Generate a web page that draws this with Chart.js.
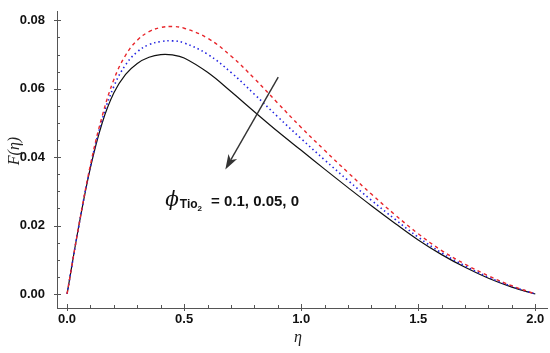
<!DOCTYPE html>
<html>
<head>
<meta charset="utf-8">
<script src="https://cdn.jsdelivr.net/npm/chart.js@4/dist/chart.umd.min.js"></script>
<style>
  html, body { margin: 0; padding: 0; background: #fff; }
  #chart-container { width: 550px; height: 353px; }
</style>
</head>
<body>
<div id="chart-container"><canvas id="f-chart"></canvas></div>
<script>
// eta values (x axis)
var etaValues = [0, 0.05, 0.1, 0.15, 0.2, 0.25, 0.3, 0.35, 0.4, 0.45, 0.5, 0.6, 0.7, 0.8, 0.9,
                 1.0, 1.1, 1.2, 1.3, 1.4, 1.5, 1.6, 1.7, 1.8, 1.9, 2.0];
// F(eta) for phi = 0 (black solid)
var fPhi0 = [0, 0.0198, 0.0370, 0.0500, 0.0588, 0.0642, 0.0674, 0.0692, 0.0700, 0.0699, 0.0690,
             0.0648, 0.0592, 0.0533, 0.0475, 0.0420, 0.0365, 0.0311, 0.0258, 0.0207, 0.0158,
             0.0115, 0.0078, 0.0046, 0.0020, 0];
// phi = 0.05 (blue dotted)
var fPhi005 = [0, 0.0198, 0.0374, 0.0510, 0.0607, 0.0670, 0.0708, 0.0729, 0.0738, 0.0740, 0.0734,
               0.0701, 0.0648, 0.0584, 0.0518, 0.0454, 0.0392, 0.0332, 0.0274, 0.0219, 0.0166,
               0.0120, 0.0082, 0.0049, 0.0022, 0];
// phi = 0.1 (red dashed)
var fPhi01 = [0, 0.0199, 0.0378, 0.0520, 0.0627, 0.0698, 0.0742, 0.0767, 0.0779, 0.0782, 0.0777,
              0.0748, 0.0696, 0.0630, 0.0558, 0.0487, 0.0420, 0.0355, 0.0292, 0.0232, 0.0176,
              0.0127, 0.0087, 0.0053, 0.0024, 0];

var xTicks = [0, 0.5, 1.0, 1.5, 2.0];
var yTicks = [0, 0.02, 0.04, 0.06, 0.08];
var xMinorStep = 0.1;
var yMinorStep = 0.005;

// annotation: arrow (data coords) and label
var arrowFrom = {x: 0.902, y: 0.0634};
var arrowTo = {x: 0.676, y: 0.0364};
var labelAt = {x: 0.419, y: 0.0257};

function toPoints(ys) {
    return etaValues.map(function(x, i) { return {x: x, y: ys[i]}; });
}

var tickFont = {family: "'Liberation Sans', Arial, sans-serif", size: 13, weight: 'bold'};

// ticks on the axes, titles and the annotation
var extrasPlugin = {
    id: 'extras',
    afterDraw: function(chart) {
        var ctx = chart.ctx;
        var xs = chart.scales.x, ys = chart.scales.y;
        var area = chart.chartArea;
        ctx.save();
        ctx.strokeStyle = '#555';
        ctx.lineWidth = 1;
        ctx.beginPath();
        for (var i = 0; i <= Math.round(2.0 / xMinorStep); i++) {
            var v = i * xMinorStep;
            var px = Math.round(xs.getPixelForValue(v)) + 0.5;
            var major = Math.abs(v / 0.5 - Math.round(v / 0.5)) < 1e-6;
            ctx.moveTo(px, area.bottom + (major ? 3 : 0));
            ctx.lineTo(px, area.bottom - (major ? 4 : 3));
        }
        for (var j = 0; j <= Math.round(0.08 / yMinorStep); j++) {
            var w = j * yMinorStep;
            var py = Math.round(ys.getPixelForValue(w)) + 0.5;
            var majorY = Math.abs(w / 0.02 - Math.round(w / 0.02)) < 1e-6;
            ctx.moveTo(area.left - (majorY ? 3 : 0), py);
            ctx.lineTo(area.left + (majorY ? 4 : 3), py);
        }
        ctx.stroke();

        // axis titles
        ctx.fillStyle = '#222';
        ctx.font = "italic 16px 'Liberation Serif', 'Times New Roman', serif";
        ctx.textAlign = 'center';
        ctx.textBaseline = 'middle';
        ctx.fillText('\u03B7', (area.left + area.right) / 2 - 4, 338);
        ctx.save();
        ctx.translate(15, 151);
        ctx.rotate(-Math.PI / 2);
        ctx.fillText('F(\u03B7)', 0, 0);
        ctx.restore();

        // arrow
        var x1 = xs.getPixelForValue(arrowFrom.x), y1 = ys.getPixelForValue(arrowFrom.y);
        var x2 = xs.getPixelForValue(arrowTo.x), y2 = ys.getPixelForValue(arrowTo.y);
        var ang = Math.atan2(y2 - y1, x2 - x1);
        var headLen = 15, headW = 5;
        var bx = x2 - headLen * Math.cos(ang), by = y2 - headLen * Math.sin(ang);
        ctx.strokeStyle = '#333';
        ctx.fillStyle = '#333';
        ctx.lineWidth = 1.4;
        ctx.beginPath();
        ctx.moveTo(x1, y1);
        ctx.lineTo(bx + 4 * Math.cos(ang), by + 4 * Math.sin(ang));
        ctx.stroke();
        ctx.beginPath();
        ctx.moveTo(x2, y2);
        ctx.lineTo(bx + headW * Math.sin(ang), by - headW * Math.cos(ang));
        ctx.lineTo(bx + 4 * Math.cos(ang), by + 4 * Math.sin(ang));
        ctx.lineTo(bx - headW * Math.sin(ang), by + headW * Math.cos(ang));
        ctx.closePath();
        ctx.fill();

        // label phi_TiO2 = 0.1, 0.05, 0
        var lx = xs.getPixelForValue(labelAt.x), ly = ys.getPixelForValue(labelAt.y);
        ctx.fillStyle = '#111';
        ctx.textAlign = 'left';
        ctx.textBaseline = 'alphabetic';
        ctx.font = "italic 20px 'DejaVu Serif', serif";
        ctx.fillText('\u03D5', lx, ly);
        var cx = lx + ctx.measureText('\u03D5').width + 1;
        ctx.font = "bold 12px 'Liberation Sans', Arial, sans-serif";
        ctx.fillText('Tio', cx, ly + 2);
        cx += ctx.measureText('Tio').width;
        ctx.font = "bold 8px 'Liberation Sans', Arial, sans-serif";
        ctx.fillText('2', cx, ly + 5);
        cx += ctx.measureText('2').width + 9;
        ctx.font = "bold 15px 'Liberation Sans', Arial, sans-serif";
        ctx.fillText('= 0.1, 0.05, 0', cx, ly);
        ctx.restore();
    }
};

var ctx = document.getElementById('f-chart');
var fChart = new Chart(ctx, {
    type: 'scatter',
    data: {
        datasets: [
            {label: 'phi=0.1', data: toPoints(fPhi01), showLine: true, borderColor: '#e8262b',
             borderWidth: 1.4, borderDash: [3.5, 3.5], pointRadius: 0, tension: 0.4},
            {label: 'phi=0.05', data: toPoints(fPhi005), showLine: true, borderColor: '#2424e0',
             borderWidth: 1.6, borderDash: [1.5, 3], pointRadius: 0, tension: 0.4},
            {label: 'phi=0', data: toPoints(fPhi0), showLine: true, borderColor: '#111',
             borderWidth: 1.2, pointRadius: 0, tension: 0.4}
        ]
    },
    options: {
        responsive: true,
        maintainAspectRatio: false,
        animation: false,
        layout: {padding: {top: 8, right: 3, left: 0, bottom: 0}},
        plugins: {legend: {display: false}, tooltip: {enabled: false}},
        scales: {
            x: {
                type: 'linear',
                min: -0.043,
                max: 2.05,
                afterFit: function(s) { s.height = 45; },
                afterBuildTicks: function(s) { s.ticks = xTicks.map(function(v) { return {value: v}; }); },
                grid: {display: false},
                border: {display: true, color: '#555', width: 1},
                ticks: {
                    font: tickFont, color: '#111', padding: -4, maxRotation: 0,
                    callback: function(v) { return v.toFixed(1); }
                }
            },
            y: {
                type: 'linear',
                min: -0.0041,
                max: 0.0825,
                afterFit: function(s) { s.width = 57; },
                afterBuildTicks: function(s) { s.ticks = yTicks.map(function(v) { return {value: v}; }); },
                grid: {display: false},
                border: {display: true, color: '#555', width: 1},
                ticks: {
                    font: tickFont, color: '#111', padding: 4,
                    callback: function(v) { return v.toFixed(2); }
                }
            }
        }
    },
    plugins: [extrasPlugin]
});
</script>
</body>
</html>
